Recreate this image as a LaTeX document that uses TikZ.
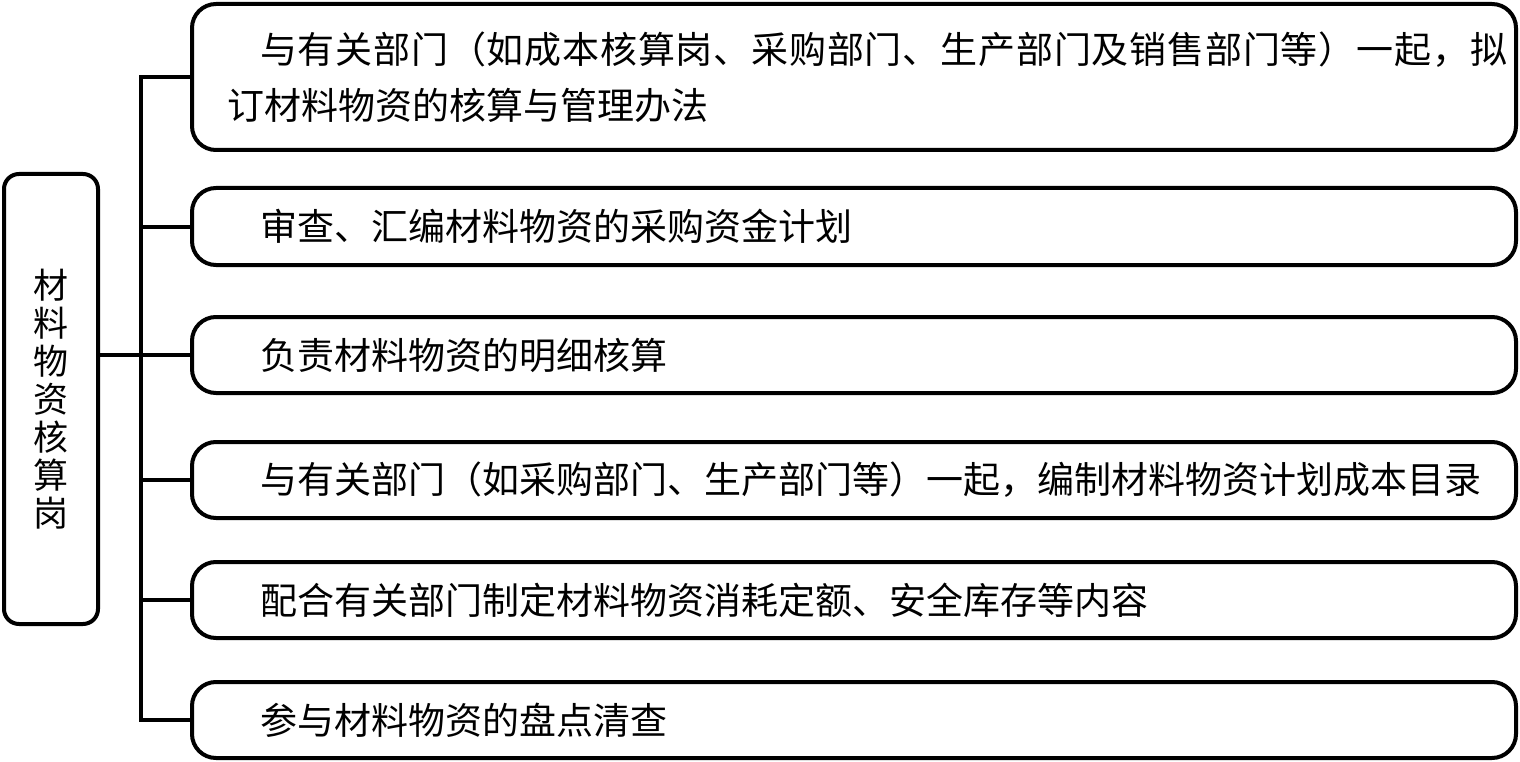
\documentclass[tikz,border=0pt]{standalone}
\usepackage{fontspec}
\newfontfamily\cjk{Noto Sans CJK SC}
\usepackage{tikz}

\begin{document}
\begin{tikzpicture}[x=1pt,y=-1pt,
    duty/.style={draw,line width=4pt,rounded corners=24pt,
        minimum width=1324pt,text width=1254pt,inner xsep=35pt,
        align=left,font=\cjk\fontsize{37pt}{56pt}\selectfont},
    post/.style={draw,line width=4pt,rounded corners=15pt,
        minimum width=94pt,minimum height=450pt,align=center,
        font=\cjk\fontsize{35pt}{38pt}\selectfont},
    link/.style={line width=4pt}]

\useasboundingbox (0,0) rectangle (1520,762);

\node[post] (post) at (51,399) {材\\料\\物\\资\\核\\算\\岗};

\node[duty,minimum height=146pt] (d1) at (854,77)
    {\hspace*{33pt}{\addfontfeature{LetterSpace=2.2}与有关部门（如成本核算岗、采购部门、生产部门及销售部门等）一起，拟}\\订材料物资的核算与管理办法};
\node[duty,minimum height=77pt] (d2) at (854,226.5)
    {\hspace*{33pt}审查、汇编材料物资的采购资金计划};
\node[duty,minimum height=76pt] (d3) at (854,355)
    {\hspace*{33pt}负责材料物资的明细核算};
\node[duty,minimum height=76pt] (d4) at (854,480)
    {\hspace*{33pt}与有关部门（如采购部门、生产部门等）一起，编制材料物资计划成本目录};
\node[duty,minimum height=76pt] (d5) at (854,600)
    {\hspace*{33pt}配合有关部门制定材料物资消耗定额、安全库存等内容};
\node[duty,minimum height=76pt] (d6) at (854,720)
    {\hspace*{33pt}参与材料物资的盘点清查};

% trunk and branches
\draw[link] (d1.west) -- ++(-49,0) |- (d6.west);
\foreach \d in {d2,d3,d4,d5}
    \draw[link] (\d.west) -- ++(-49,0);
\draw[link] (post.east |- d3.west) -- (d3.west);

\end{tikzpicture}
\end{document}
